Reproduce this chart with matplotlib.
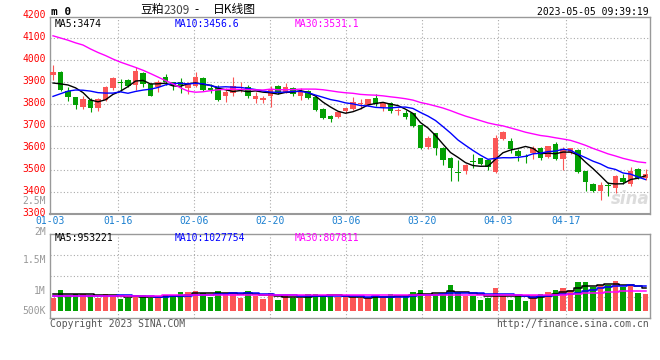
import numpy as np
import pandas as pd
import matplotlib
matplotlib.use('Agg')
import matplotlib.pyplot as plt

W, H = 660, 360
RED, GREEN = '#fb5656', '#03a003'
MONO = 'DejaVu Sans Mono'
CJK = ['Noto Sans CJK SC', 'DejaVu Sans']
FS = 7

tick_labels = ['01-03', '01-16', '02-06', '02-20', '03-06', '03-20', '04-03', '04-17']
tick_idx = [0, 9, 19, 29, 39, 49, 59, 68]

opens = [3935, 3948, 3862, 3831, 3788, 3820, 3781, 3820, 3872, 3898,
         3911, 3889, 3943, 3892, 3880, 3923, 3900, 3900, 3874, 3885,
         3920, 3874, 3874, 3836, 3850, 3886, 3880, 3824, 3819, 3836,
         3885, 3854, 3874, 3836, 3862, 3831, 3778, 3747, 3742, 3770,
         3779, 3801, 3795, 3828, 3788, 3804, 3769, 3760, 3758, 3704,
         3607, 3668, 3602, 3556, 3490, 3497, 3538, 3553, 3544, 3490,
         3642, 3633, 3589, 3561, 3576, 3602, 3560, 3617, 3551, 3584,
         3590, 3495, 3438, 3403, 3431, 3417, 3465, 3436, 3505, 3464]
highs = [3980, 3952, 3877, 3832, 3839, 3827, 3827, 3885, 3926, 3915,
         3914, 3969, 3946, 3897, 3911, 3938, 3902, 3922, 3900, 3949,
         3923, 3892, 3890, 3872, 3923, 3903, 3888, 3854, 3836, 3885,
         3888, 3897, 3877, 3872, 3866, 3836, 3781, 3750, 3770, 3785,
         3832, 3823, 3826, 3846, 3812, 3810, 3785, 3775, 3762, 3706,
         3654, 3671, 3604, 3559, 3544, 3528, 3574, 3556, 3544, 3662,
         3678, 3645, 3594, 3573, 3612, 3606, 3612, 3628, 3604, 3603,
         3594, 3498, 3441, 3445, 3445, 3480, 3482, 3515, 3510, 3504]
lows = [3909, 3862, 3816, 3778, 3778, 3765, 3770, 3816, 3866, 3860,
        3880, 3866, 3877, 3836, 3856, 3888, 3866, 3850, 3846, 3880,
        3862, 3851, 3816, 3811, 3839, 3854, 3827, 3804, 3808, 3788,
        3846, 3850, 3836, 3820, 3824, 3770, 3735, 3720, 3739, 3762,
        3774, 3778, 3793, 3793, 3770, 3760, 3750, 3735, 3698, 3594,
        3596, 3568, 3522, 3449, 3449, 3481, 3510, 3525, 3501, 3486,
        3636, 3580, 3543, 3534, 3550, 3544, 3556, 3548, 3502, 3575,
        3487, 3407, 3400, 3362, 3383, 3396, 3438, 3426, 3459, 3454]
closes = [3949, 3866, 3831, 3796, 3824, 3781, 3824, 3877, 3920, 3897,
          3885, 3950, 3892, 3839, 3900, 3900, 3888, 3886, 3892, 3923,
          3866, 3866, 3820, 3857, 3882, 3888, 3839, 3839, 3828, 3869,
          3857, 3877, 3846, 3862, 3827, 3775, 3739, 3735, 3765, 3782,
          3810, 3803, 3824, 3799, 3808, 3768, 3771, 3743, 3701, 3599,
          3645, 3602, 3545, 3510, 3488, 3525, 3536, 3528, 3513, 3645,
          3674, 3597, 3564, 3559, 3602, 3553, 3609, 3550, 3597, 3600,
          3490, 3444, 3403, 3434, 3429, 3475, 3448, 3498, 3466, 3484]
volumes = [547, 867, 617, 700, 700, 644, 547, 700, 617, 506,
           547, 631, 644, 547, 519, 644, 644, 783, 783, 825,
           756, 589, 825, 756, 756, 547, 825, 617, 492, 756,
           450, 644, 547, 547, 700, 700, 644, 644, 561, 561,
           561, 519, 519, 617, 589, 700, 617, 617, 797, 867,
           700, 700, 700, 1075, 797, 617, 617, 450, 547, 950,
           617, 450, 617, 408, 658, 700, 797, 867, 950, 867,
           1200, 1200, 978, 1075, 1075, 1242, 1006, 1075, 756, 700]
volumes = [v * 1000 for v in volumes]

ma5_head = [3897, 3893, 3888, 3875]
ma10_head = [3836, 3848, 3860, 3865, 3864, 3860, 3853, 3851, 3851]
ma30_head = [4112, 4102, 4092, 4080, 4070, 4052, 4036, 4022, 4006, 3992,
             3980, 3968, 3955, 3940, 3924, 3908, 3893, 3875, 3860, 3855,
             3857, 3862, 3866, 3868, 3869, 3868, 3867, 3866, 3865]
vma5_head = [700e3, 700e3, 680e3, 680e3]
vma10_head = [600e3, 600e3, 610e3, 620e3, 620e3, 630e3, 630e3, 630e3, 630e3]
vma30_head = [620e3, 620e3, 620e3, 625e3, 625e3, 625e3, 630e3, 630e3, 630e3, 630e3,
              630e3, 635e3, 635e3, 635e3, 635e3, 640e3, 640e3, 640e3, 645e3, 645e3,
              645e3, 650e3, 650e3, 650e3, 650e3, 655e3, 655e3, 655e3, 655e3]


def moving(values, win, head):
    m = pd.Series(values, dtype=float).rolling(win).mean().to_numpy()
    m[:len(head)] = head
    return m


def fx(x):
    return x / W


def fy(y):
    return 1 - y / H


n = len(closes)
x = np.arange(n)
o, h, l, c = (np.asarray(a, float) for a in (opens, highs, lows, closes))
col = np.where(c >= o, RED, GREEN)
gx = -0.4 + np.asarray(tick_idx) * 80 / 79

fig = plt.figure(figsize=(6.6, 3.6), dpi=100)
ax = fig.add_axes([fx(50), fy(214), 600 / W, (214 - 16.5) / H])
axv = fig.add_axes([fx(50), fy(318), 600 / W, (318 - 234) / H])

dot = dict(color='#aaaaaa', lw=0.8, ls=(0, (1, 2)), zorder=0)
for a in (ax, axv):
    a.set_xlim(-0.4, 79.6)
    a.set_xticks([]); a.set_yticks([])
    for s in a.spines.values():
        s.set_color('#999999'); s.set_linewidth(1)
    for g in gx[1:]:
        a.axvline(g, **dot)

# price panel
ax.set_ylim(3300, 4200)
for p in range(3400, 4200, 100):
    ax.axhline(p, **dot)
ax.spines['bottom'].set_linewidth(1.5)
ax.vlines(x, l, h, colors=col, lw=0.8, zorder=2)
ax.bar(x, np.maximum(np.abs(c - o), 4), bottom=np.minimum(o, c), width=0.78,
       color=col, lw=0, zorder=3)
ax.plot(x, moving(closes, 5, ma5_head), color='black', lw=1, zorder=4)
ax.plot(x, moving(closes, 10, ma10_head), color='#0000ff', lw=1, zorder=4)
ax.plot(x, moving(closes, 30, ma30_head), color='#ff00ff', lw=1, zorder=4)

for p in range(3300, 4201, 100):
    fig.text(fx(46), fy(15.5 + (4200 - p) * 197.5 / 900), str(p), ha='right',
             va='center', color='#ff0000', family=MONO, fontsize=FS)
for g, t in zip(gx, tick_labels):
    fig.text(fx(50 + (g + 0.4) * 7.5), fy(221.5), t, ha='center', va='center',
             color='#1a7fd0', family=MONO, fontsize=FS)

fig.text(fx(55), fy(24), 'MA5:3474', ha='left', va='center', family=MONO, fontsize=FS)
fig.text(fx(175), fy(24), 'MA10:3456.6', ha='left', va='center', family=MONO,
         fontsize=FS, color='#0000ff')
fig.text(fx(295), fy(24), 'MA30:3531.1', ha='left', va='center', family=MONO,
         fontsize=FS, color='#ff00ff')
fig.text(fx(650), fy(199), 'sina', ha='right', va='center', fontsize=12,
         style='italic', weight='bold', color='#dcdcdc', zorder=1)

# header
fig.text(fx(51), fy(12), 'm 0', ha='left', va='center', family=MONO, fontsize=8,
         weight='bold')
fig.text(fx(140), fy(10), '豆粕', ha='left', va='center', family=CJK, fontsize=8.5)
fig.text(fx(163), fy(10), '2309', ha='left', va='center', family=CJK, fontsize=8.5,
         color='#444444')
fig.text(fx(197), fy(10), '-', ha='center', va='center', family=CJK, fontsize=8.5)
fig.text(fx(213), fy(10), '日K线图', ha='left', va='center', family=CJK, fontsize=8.5)
fig.text(fx(649), fy(12), '2023-05-05 09:39:19', ha='right', va='center', family=MONO,
         fontsize=FS)

# volume panel
axv.set_ylim(-0.3e6, 3.2e6)
for f in (0.25, 0.5, 0.75):
    axv.plot([0, 1], [f, f], transform=axv.transAxes, **dot)
axv.bar(x, volumes, width=0.78, color=col, lw=0, zorder=2)
axv.plot(x, moving(volumes, 5, vma5_head), color='black', lw=1.1,
         drawstyle='steps-mid', zorder=3)
axv.plot(x, moving(volumes, 10, vma10_head), color='#0000ff', lw=1.1,
         drawstyle='steps-mid', zorder=3)
axv.plot(x, moving(volumes, 30, vma30_head), color='#ff00ff', lw=1.1,
         drawstyle='steps-mid', zorder=3)

for t, yy in [('2.5M', 201.5), ('2M', 231.5), ('1.5M', 260), ('1M', 291), ('500K', 311)]:
    fig.text(fx(46), fy(yy), t, ha='right', va='center', color='#999999',
             family=MONO, fontsize=FS)
fig.text(fx(55), fy(238), 'MA5:953221', ha='left', va='center', family=MONO,
         fontsize=FS)
fig.text(fx(175), fy(238), 'MA10:1027754', ha='left', va='center', family=MONO,
         fontsize=FS, color='#0000ff')
fig.text(fx(295), fy(238), 'MA30:807811', ha='left', va='center', family=MONO,
         fontsize=FS, color='#ff00ff')
fig.text(fx(50), fy(324), 'Copyright 2023 SINA.COM', ha='left', va='center',
         family=MONO, fontsize=FS, color='#555555')
fig.text(fx(649), fy(324), 'http://finance.sina.com.cn', ha='right', va='center',
         family=MONO, fontsize=FS, color='#555555')

fig.savefig('out.png', dpi=100)
